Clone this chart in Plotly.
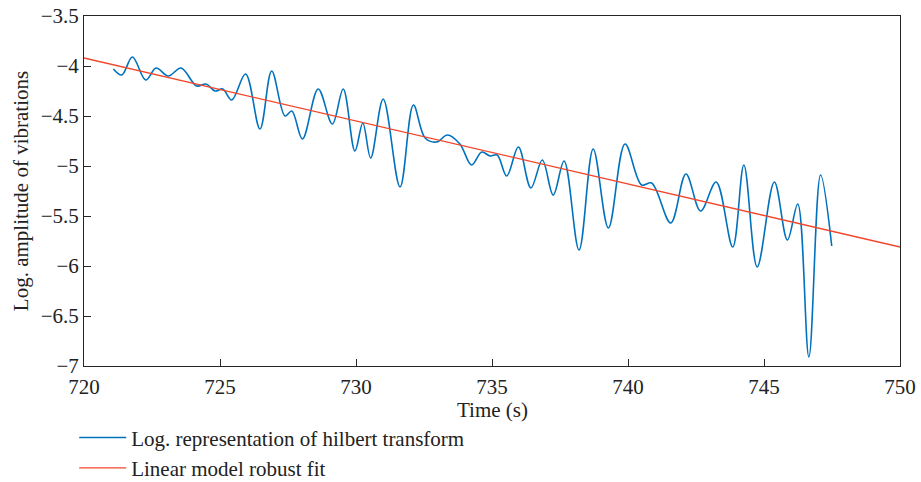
import plotly.graph_objects as go

# Log amplitude envelope (Hilbert transform), sampled at its turning points
time_s = [721.08, 721.39, 721.78, 722.27, 722.65, 723.10, 723.57, 724.14, 724.49, 724.82,
          725.10, 725.43, 725.94, 726.47, 726.90, 727.39, 727.64, 728.03, 728.61, 729.13,
          729.53, 729.96, 730.25, 730.54, 731.00, 731.62, 732.11, 732.54, 732.97, 733.36,
          733.82, 734.25, 734.62, 734.93, 735.19, 735.54, 735.97, 736.43, 736.85, 737.25,
          737.65, 738.20, 738.72, 739.28, 739.89, 740.50, 740.87, 741.57, 742.13, 742.67,
          743.24, 743.85, 744.26, 744.75, 745.38, 745.86, 746.24, 746.65, 747.08, 747.49]
log_amp = [-4.03, -4.09, -3.91, -4.14, -4.02, -4.10, -4.02, -4.20, -4.18, -4.25,
           -4.23, -4.34, -4.08, -4.63, -4.05, -4.50, -4.45, -4.73, -4.23, -4.58,
           -4.23, -4.85, -4.57, -4.92, -4.33, -5.21, -4.39, -4.72, -4.76, -4.69,
           -4.78, -4.99, -4.86, -4.90, -4.89, -5.10, -4.81, -5.22, -4.94, -5.29,
           -4.95, -5.84, -4.83, -5.62, -4.78, -5.19, -5.17, -5.57, -5.08, -5.45,
           -5.16, -5.81, -4.99, -6.01, -5.16, -5.74, -5.38, -6.91, -5.09, -5.80]

# Robust linear fit, evaluated at the ends of the time window
fit_time = [720, 750]
fit_value = [-3.92, -5.81]

x_ticks = [720, 725, 730, 735, 740, 745, 750]
y_ticks = [-7, -6.5, -6, -5.5, -5, -4.5, -4, -3.5]

FONT = "Liberation Serif"
FS = 21
AXIS_COLOR = "#262626"
TEXT_COLOR = "#222222"

fig = go.Figure()
fig.add_trace(go.Scatter(
    x=time_s, y=log_amp, mode="lines",
    line=dict(color="#0072BD", width=1.6, shape="spline", smoothing=1.0),
    name="Log. representation of hilbert transform",
))
fig.add_trace(go.Scatter(
    x=fit_time, y=fit_value, mode="lines",
    line=dict(color="#F2452A", width=1.3),
    name="Linear model robust fit",
))

axis_common = dict(
    showgrid=False, zeroline=False, showline=True, linecolor=AXIS_COLOR, linewidth=1,
    mirror=True, ticks="inside", ticklen=7, tickcolor=AXIS_COLOR, tickwidth=1,
    tickfont=dict(family=FONT, size=FS, color=TEXT_COLOR), automargin=False,
)

fig.update_layout(
    width=921, height=482,
    margin=dict(l=84, r=21, t=16, b=116, autoexpand=False),
    plot_bgcolor="white", paper_bgcolor="white",
    font=dict(family=FONT, size=FS, color=TEXT_COLOR),
    xaxis=dict(range=[720, 750], tickvals=x_ticks, ticktext=[str(v) for v in x_ticks],
               ticklabelstandoff=2, **axis_common),
    yaxis=dict(range=[-7, -3.5], tickvals=y_ticks,
               title=dict(text="Log. amplitude of vibrations", font=dict(family=FONT, size=FS),
                          standoff=6),
               **axis_common),
    showlegend=True,
    legend=dict(
        x=-0.012, y=0.134, xanchor="left", yanchor="top", yref="container",
        orientation="v", bgcolor="rgba(0,0,0,0)",
        font=dict(family=FONT, size=FS, color=TEXT_COLOR),
        itemwidth=47, tracegroupgap=0,
    ),
)

# x-axis title placed a little lower than the tick labels
fig.add_annotation(
    text="Time (s)", xref="paper", yref="paper", x=0.5, y=-0.127,
    xanchor="center", yanchor="middle", showarrow=False,
    font=dict(family=FONT, size=FS, color=TEXT_COLOR),
)

fig.write_html("out.html")
